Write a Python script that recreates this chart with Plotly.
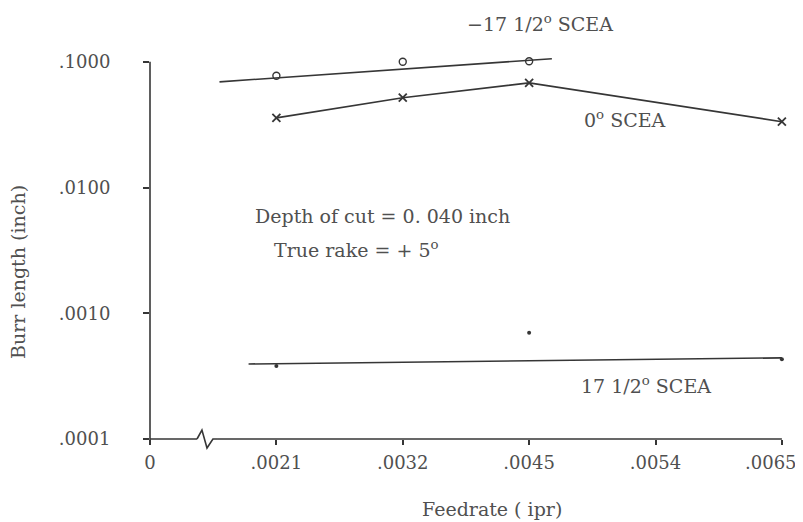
import plotly.graph_objects as go

# ---- data ----
feed_labels = ["0", ".0021", ".0032", ".0045", ".0054", ".0065"]
feed_pos = [0, 1, 2, 3, 4, 5]          # evenly spaced positions on the broken axis

burr_ticks = [0.0001, 0.001, 0.01, 0.1]
burr_tick_labels = [".0001", ".0010", ".0100", ".1000"]

neg175_x = [1, 2, 3]
neg175_y = [0.0774, 0.100, 0.101]
neg175_fit_x = [0.55, 3.18]
neg175_fit_y = [0.0693, 0.1057]

zero_x = [1, 2, 3, 5]
zero_y = [0.0358, 0.0518, 0.068, 0.0334]

pos175_x = [1, 3, 5]
pos175_y = [0.00038, 0.0007, 0.00043]
pos175_fit_x = [0.78, 5]
pos175_fit_y = [0.000395, 0.000442]

INK = "#363636"
TXT = "#505050"
FONT = "DejaVu Serif"

OFF = 8  # default page body margin; figure is sized so that it fits the window
W, H = 803 - OFF, 522 - OFF
L, T = 150 - OFF, 53 - OFF
R = W - (792 - OFF)
B = H - (439 - OFF)
X_RANGE = [0, 5.08]
Y_RANGE = [-4, -0.93]
PW, PH = W - L - R, H - T - B

fig = go.Figure()

# -17 1/2 deg SCEA: fitted line + open circles
fig.add_trace(go.Scatter(x=neg175_fit_x, y=neg175_fit_y, mode="lines",
                         line=dict(color=INK, width=1.6), showlegend=False, hoverinfo="skip"))
fig.add_trace(go.Scatter(x=neg175_x, y=neg175_y, mode="markers",
                         marker=dict(symbol="circle-open", size=7, color=INK, line=dict(width=1.4)),
                         showlegend=False, cliponaxis=False))

# 0 deg SCEA: polyline with x markers
fig.add_trace(go.Scatter(x=zero_x, y=zero_y, mode="lines+markers",
                         line=dict(color=INK, width=1.6),
                         marker=dict(symbol="x-thin", size=8, color=INK, line=dict(width=1.8, color=INK)),
                         showlegend=False, cliponaxis=False))

# 17 1/2 deg SCEA: fitted line + dots
fig.add_trace(go.Scatter(x=pos175_fit_x, y=pos175_fit_y, mode="lines",
                         line=dict(color=INK, width=1.6), showlegend=False, hoverinfo="skip",
                         cliponaxis=False))
fig.add_trace(go.Scatter(x=pos175_x, y=pos175_y, mode="markers",
                         marker=dict(symbol="circle", size=4, color=INK),
                         showlegend=False, cliponaxis=False))

# axis lines drawn as shapes (broken x axis, y axis ending at the .1000 tick)
axis_line = dict(color=INK, width=1.6)
y_top = (-1 - Y_RANGE[0]) / (Y_RANGE[1] - Y_RANGE[0])
zz = 9 / PH
fig.add_shape(type="line", xref="paper", yref="paper", x0=0, x1=0, y0=-0.015, y1=y_top, line=axis_line)
fig.add_shape(type="line", xref="x", yref="paper", x0=-0.04, x1=0.372, y0=0, y1=0, line=axis_line)
fig.add_shape(type="path", xref="x", yref="paper",
              path=f"M 0.372 0 L 0.411 {zz:.4f} L 0.451 {-zz:.4f} L 0.498 0.0 L 0.538 0",
              line=axis_line)
fig.add_shape(type="line", xref="x", yref="paper", x0=0.538, x1=5, y0=0, y1=0, line=axis_line)


def ann(text, px, py, size=19, angle=0, xanchor="center"):
    # px, py: position in page pixels
    fig.add_annotation(text=text, xref="paper", yref="paper",
                       x=(px - OFF - L) / PW, y=(H - B - (py - OFF)) / PH,
                       showarrow=False, textangle=angle,
                       font=dict(family=FONT, size=size, color=TXT),
                       xanchor=xanchor, yanchor="middle")


ann("\u221217 1/2<sup>o</sup> SCEA", 540, 23)
ann("0<sup>o</sup> SCEA", 625, 119)
ann("Depth of cut = 0. 040 inch", 382, 216)
ann("True rake = + 5<sup>o</sup>", 356, 249)
ann("17 1/2<sup>o</sup> SCEA", 646, 385)
ann("Burr length (inch)", 18, 272, size=19, angle=-90)
ann("Feedrate ( ipr)", 492, 509, size=19)

# the last x tick label sits pulled in from the page edge, as in the reference
x_tick_text = feed_labels[:-1] + [""]
ann(feed_labels[-1], 799, 462, size=18, xanchor="right")

fig.update_layout(
    width=W, height=H,
    margin=dict(l=L, r=R, t=T, b=B, autoexpand=False),
    paper_bgcolor="white", plot_bgcolor="white",
    font=dict(family=FONT, size=18, color=TXT),
    showlegend=False,
)
fig.update_xaxes(range=X_RANGE, tickmode="array", tickvals=feed_pos, ticktext=x_tick_text,
                 showgrid=False, zeroline=False, showline=False, automargin=False,
                 ticks="outside", ticklen=5, tickwidth=1.5, tickcolor=INK,
                 ticklabelstandoff=2, tickfont=dict(family=FONT, size=18, color=TXT))
fig.update_yaxes(type="log", range=Y_RANGE, tickmode="array", tickvals=burr_ticks,
                 ticktext=burr_tick_labels, showgrid=False, zeroline=False,
                 showline=False, automargin=False,
                 ticks="outside", ticklen=6, tickwidth=1.5, tickcolor=INK,
                 ticklabelstandoff=29, tickfont=dict(family=FONT, size=18, color=TXT))

fig.write_html("out.html")
